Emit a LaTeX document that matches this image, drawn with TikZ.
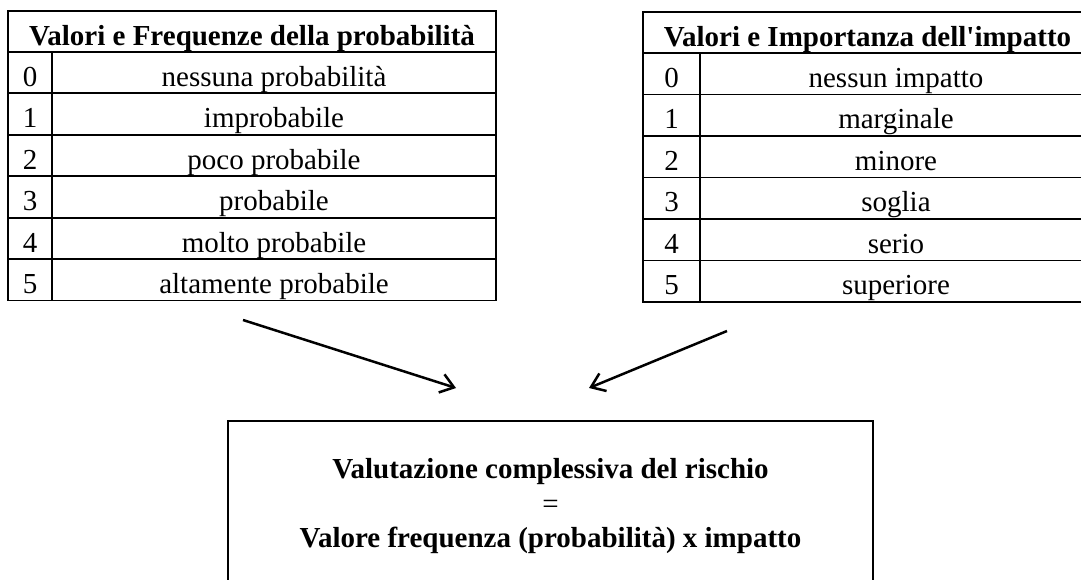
\documentclass[tikz,border=0pt]{standalone}
\usepackage{fontspec}
\setmainfont{Liberation Serif}[Ligatures=TeXOff]
\usetikzlibrary{arrows.meta}
\begin{document}
\begin{tikzpicture}[x=1pt,y=-1pt,
  cellbox/.style={draw, line width=1.8pt, inner sep=0pt, outer sep=0pt,
    font=\fontsize{29}{34}\selectfont, text height=34.4pt, text depth=7pt},
  hdrbox/.style={cellbox, font=\fontsize{29}{34}\selectfont\bfseries},
  riskbox/.style={draw, line width=2.5pt, inner sep=0pt, outer sep=0pt},
  risktext/.style={anchor=base, inner sep=0pt, font=\fontsize{29}{34}\selectfont\bfseries},
  arr/.style={line width=2.5pt, -{Straight Barb[length=13pt,width=19pt]}}]
\useasboundingbox (0,0) rectangle (1081,580);
\clip (0,0) rectangle (1081,580);
% left table
\node[hdrbox, minimum width=488pt, minimum height=41.4pt] (lh) at (252,31.5) {Valori e Frequenze della probabilità};
\foreach \i/\t in {0/nessuna probabilità,1/improbabile,2/poco probabile,3/probabile,4/molto probabile,5/altamente probabile}{
  \node[cellbox, minimum width=44pt, minimum height=41.4pt] (ln\i) at (30,{72.7+41.4*\i}) {\i};
  \node[cellbox, minimum width=444pt, minimum height=41.4pt] (lt\i) at (274,{72.7+41.4*\i}) {\t};
}
% right table
\node[hdrbox, minimum width=449pt, minimum height=41.5pt] (rh) at (867.5,32.5) {Valori e Importanza dell'impatto};
\foreach \i/\t in {0/nessun impatto,1/marginale,2/minore,3/soglia,4/serio,5/superiore}{
  \node[cellbox, minimum width=57pt, minimum height=41.5pt] (rn\i) at (671.5,{73.75+41.5*\i}) {\i};
  \node[cellbox, minimum width=392pt, minimum height=41.5pt] (rt\i) at (896,{73.75+41.5*\i}) {\t};
}
% bottom box
\node[riskbox, minimum width=645pt, minimum height=170pt] (risk) at (550.5,506) {};
\node[risktext] (r1) at (550.5,478) {Valutazione complessiva del rischio};
\node[risktext, font=\fontsize{29}{34}\selectfont] (r2) at (550.5,513) {=};
\node[risktext] (r3) at (550.5,547) {Valore frequenza (probabilità) x impatto};
% arrows
\coordinate (a1s) at (243,320);
\coordinate (a1e) at (456,388);
\coordinate (a2s) at (727,331);
\coordinate (a2e) at (589,388);
\draw[arr] (a1s) -- (a1e);
\draw[arr] (a2s) -- (a2e);
\end{tikzpicture}
\end{document}
